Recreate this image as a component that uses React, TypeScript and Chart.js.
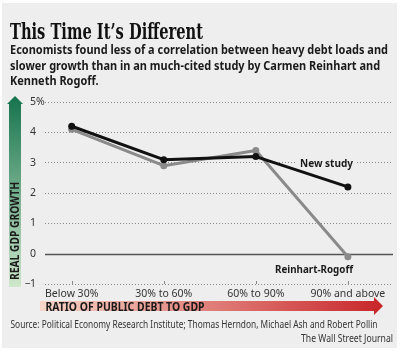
import React, { useEffect, useRef } from 'react';
import { Chart, registerables } from 'chart.js';

Chart.register(...registerables);

const categories = ['Below 30%', '30% to 60%', '60% to 90%', '90% and above'];
const newStudy = [4.2, 3.1, 3.2, 2.2];
const reinhartRogoff = [4.1, 2.9, 3.4, -0.1];
const yTickValues = [-1, 0, 1, 2, 3, 4, 5];
const yTickLabels = ['−1', '0', '1', '2', '3', '4', '5%'];

const titleText = 'This Time It’s Different';
const subtitleLines = [
  'Economists found less of a correlation between heavy debt loads and',
  'slower growth than in an much-cited study by Carmen Reinhart and',
  'Kenneth Rogoff.',
];
const sourceText = 'Source: Political Economy Research Institute; Thomas Herndon, Michael Ash and Robert Pollin';
const creditText = 'The Wall Street Journal';
const yTitle = 'REAL GDP GROWTH';
const xTitle = 'RATIO OF PUBLIC DEBT TO GDP';
const seriesNames = ['New study', 'Reinhart-Rogoff'];

const BG = '#eeeeee';
const SANS = "'Noto Sans', 'DejaVu Sans', sans-serif";

function fitText(ctx: CanvasRenderingContext2D, text: string, x: number, y: number, w: number, font: string, color: string, align: 'left' | 'right' | 'center' = 'left', scaleOverride?: number) {
  ctx.save();
  ctx.font = font;
  ctx.fillStyle = color;
  ctx.textAlign = 'left';
  ctx.textBaseline = 'alphabetic';
  const m = ctx.measureText(text).width;
  const s = scaleOverride ?? w / m;
  const realW = m * s;
  const x0 = align === 'left' ? x : align === 'right' ? x - realW : x - realW / 2;
  ctx.translate(x0, y);
  ctx.scale(s, 1);
  ctx.fillText(text, 0, 0);
  ctx.restore();
  return s;
}

const decorPlugin = {
  id: 'decor',
  beforeDraw(chart: any) {
    const ctx = chart.ctx as CanvasRenderingContext2D;
    ctx.save();
    ctx.fillStyle = '#ffffff';
    ctx.fillRect(0, 0, 400, 351);
    ctx.fillStyle = BG;
    ctx.fillRect(2, 3, 395, 345);
    ctx.restore();

    // title
    fitText(ctx, titleText, 10, 38.5, 193, "bold 22px 'DejaVu Serif Condensed', 'DejaVu Serif', serif", '#111111');
    // subtitle
    const subFont = `bold 13px 'Liberation Sans Narrow', ${SANS}`;
    ctx.font = subFont;
    const s = 378 / ctx.measureText(subtitleLines[0]).width;
    const baselines = [54, 69.5, 85];
    subtitleLines.forEach((l, i) => fitText(ctx, l, 10, baselines[i], 0, subFont, '#1a1a1a', 'left', s));

    // y arrow
    ctx.save();
    const gy = ctx.createLinearGradient(0, 96, 0, 287);
    gy.addColorStop(0, '#15734d');
    gy.addColorStop(1, '#cfe7cb');
    ctx.fillStyle = gy;
    ctx.beginPath();
    ctx.moveTo(15, 96);
    ctx.lineTo(23, 104);
    ctx.lineTo(21, 104);
    ctx.lineTo(21, 287);
    ctx.lineTo(9, 287);
    ctx.lineTo(9, 104);
    ctx.lineTo(7, 104);
    ctx.closePath();
    ctx.fill();
    ctx.translate(18.5, 280);
    ctx.rotate(-Math.PI / 2);
    fitText(ctx, yTitle, 0, 0, 98, `bold 11.5px ${SANS}`, '#1a1a1a');
    ctx.restore();

    // x arrow
    ctx.save();
    const gx = ctx.createLinearGradient(40, 0, 382, 0);
    gx.addColorStop(0, '#f8d6c8');
    gx.addColorStop(1, '#c8262a');
    ctx.fillStyle = gx;
    ctx.beginPath();
    ctx.moveTo(40, 301);
    ctx.lineTo(374, 301);
    ctx.lineTo(374, 297);
    ctx.lineTo(383, 306);
    ctx.lineTo(374, 315);
    ctx.lineTo(374, 311);
    ctx.lineTo(40, 311);
    ctx.closePath();
    ctx.fill();
    ctx.restore();
    fitText(ctx, xTitle, 45.5, 310.5, 159, `bold 11.5px ${SANS}`, '#1a1a1a');

    // source
    fitText(ctx, sourceText, 10.5, 328, 367, `11px ${SANS}`, '#333333');
    fitText(ctx, creditText, 393, 341.5, 92, `11px ${SANS}`, '#333333', 'right');
  },
  beforeDatasetsDraw(chart: any) {
    const ctx = chart.ctx as CanvasRenderingContext2D;
    const { chartArea, scales } = chart;
    const x = scales.x;
    const y = scales.y;
    ctx.save();
    // zero line
    const y0 = Math.round(y.getPixelForValue(0)) + 0.5;
    ctx.strokeStyle = '#555555';
    ctx.lineWidth = 1.3;
    ctx.beginPath();
    ctx.moveTo(chartArea.left, y0);
    ctx.lineTo(chartArea.right, y0);
    ctx.stroke();
    // x tick marks on bottom line
    ctx.strokeStyle = '#888888';
    ctx.lineWidth = 1;
    categories.forEach((_, i) => {
      const px = Math.round(x.getPixelForValue(i)) + 0.5;
      ctx.beginPath();
      ctx.moveTo(px, chartArea.bottom - 3);
      ctx.lineTo(px, chartArea.bottom);
      ctx.stroke();
    });
    // y tick labels
    ctx.fillStyle = '#333333';
    ctx.font = `10.5px ${SANS}`;
    ctx.textBaseline = 'middle';
    yTickValues.forEach((v, i) => {
      const py = y.getPixelForValue(v);
      const lab = yTickLabels[i];
      if (lab.startsWith('−')) {
        ctx.textAlign = 'right';
        ctx.fillText('−', 31, py);
        ctx.textAlign = 'left';
        ctx.fillText(lab.slice(1), 30, py);
      } else {
        ctx.textAlign = 'left';
        ctx.fillText(lab, 30, py);
      }
    });
    // mask behind "New study"
    ctx.fillStyle = BG;
    ctx.fillRect(297, y.getPixelForValue(3) - 4, 60, 8);
    ctx.restore();
  },
  afterDatasetsDraw(chart: any) {
    const ctx = chart.ctx as CanvasRenderingContext2D;
    const y = chart.scales.y;
    fitText(ctx, seriesNames[0], 326.5, y.getPixelForValue(3) + 4, 53, `bold 11px ${SANS}`, '#1a1a1a', 'center');
    fitText(ctx, seriesNames[1], 314, y.getPixelForValue(-0.5) + 4, 78, `bold 11px ${SANS}`, '#1a1a1a', 'center');
  },
};

export default function App() {
  const ref = useRef<HTMLCanvasElement>(null);
  useEffect(() => {
    if (!ref.current) return;
    const chart = new Chart(ref.current, {
      type: 'line',
      data: {
        datasets: [
          {
            label: seriesNames[0],
            data: newStudy.map((v, i) => ({ x: i, y: v })),
            borderColor: '#111111',
            backgroundColor: '#111111',
            borderWidth: 3,
            pointRadius: 3.5,
            pointBorderWidth: 0,
            pointHoverRadius: 3.5,
            borderJoinStyle: 'round',
            tension: 0,
          },
          {
            label: seriesNames[1],
            data: reinhartRogoff.map((v, i) => ({ x: i, y: v })),
            borderColor: '#8a8a8a',
            backgroundColor: '#8a8a8a',
            borderWidth: 3,
            pointRadius: 3.5,
            pointBorderWidth: 0,
            pointHoverRadius: 3.5,
            borderJoinStyle: 'round',
            tension: 0,
          },
        ],
      },
      options: {
        animation: false,
        responsive: false,
        devicePixelRatio: 1,
        events: [],
        layout: { padding: { top: 102, right: 7, left: 0, bottom: 0 } },
        plugins: { legend: { display: false }, tooltip: { enabled: false }, title: { display: false } },
        scales: {
          x: {
            type: 'linear',
            min: -0.29,
            max: 3.49,
            grid: { display: false, drawTicks: false },
            border: { display: false },
            afterBuildTicks: (s: any) => {
              s.ticks = categories.map((_, i) => ({ value: i }));
            },
            afterFit: (s: any) => {
              s.height = 67;
            },
            ticks: {
              autoSkip: false,
              maxRotation: 0,
              padding: 4,
              color: '#333333',
              font: { family: "'Noto Sans', 'DejaVu Sans', sans-serif", size: 10.5 },
              callback: (v: any) => categories[v] ?? '',
            },
          },
          y: {
            type: 'linear',
            min: -1,
            max: 5,
            afterBuildTicks: (s: any) => {
              s.ticks = yTickValues.map((v) => ({ value: v }));
            },
            afterFit: (s: any) => {
              s.width = 45;
            },
            grid: {
              drawTicks: false,
              color: (c: any) => (c.tick && c.tick.value === 0 ? 'rgba(0,0,0,0)' : '#8a8a8a'),
              lineWidth: 1,
            },
            border: { display: false, dash: [1, 2] },
            ticks: { display: false },
          },
        },
      },
      plugins: [decorPlugin],
    } as any);
    return () => chart.destroy();
  }, []);
  return (
    <div style={{ position: 'fixed', left: 0, top: 0, width: 400, height: 351 }}>
      <canvas ref={ref} width={400} height={351} style={{ display: 'block', width: 400, height: 351 }} />
    </div>
  );
}
